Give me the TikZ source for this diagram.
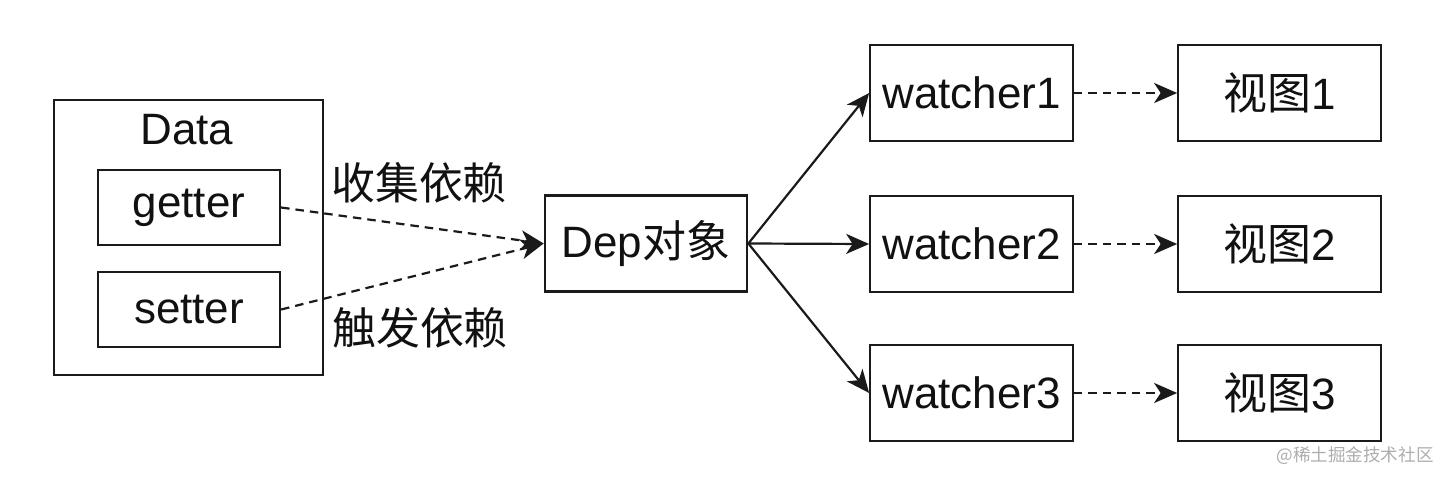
\documentclass[tikz,border=0pt]{standalone}
\usepackage{fontspec}
\setmainfont{Liberation Sans}
\newfontfamily\cjk{Noto Sans CJK SC}
\usetikzlibrary{arrows.meta,positioning}
\definecolor{depInk}{HTML}{111111}
\definecolor{depLine}{HTML}{1A1A1A}
\definecolor{depMuted}{HTML}{ADADAD}
\tikzset{
  depBlock/.style={
    draw=depLine,
    line width=1.25pt,
    fill=white,
    align=center,
    inner sep=0pt,
    minimum width=4.05cm,
    minimum height=1.92cm,
    text=depInk,
    font=\fontsize{25}{30}\selectfont
  },
  depSmall/.style={
    depBlock,
    minimum width=3.64cm,
    minimum height=1.5cm
  },
  depGroup/.style={
    draw=depLine,
    line width=1.25pt,
    inner sep=0pt,
    minimum width=5.38cm,
    minimum height=5.5cm
  },
  depArrow/.style={
    -{Stealth[length=0.46cm,width=0.4cm,inset=0.13cm]},
    line width=1.25pt,
    draw=depLine
  },
  depDashed/.style={
    depArrow,
    dash pattern=on 0.17cm off 0.12cm
  },
  depLabel/.style={
    text=depInk,
    inner sep=0pt,
    font=\fontsize{25}{30}\selectfont\cjk
  }
}

\begin{document}
\begin{tikzpicture}[x=1cm,y=1cm]
\useasboundingbox (0,0) rectangle (29.06,9.66);

% Data with its accessors.
\node[depGroup] (data) at (3.77,4.91) {};
\node[depLabel, font=\fontsize{25}{30}\selectfont] (datatitle) at (3.74,7.06) {Data};
\node[depSmall] (getter) at (3.78,5.51) {getter};
\node[depSmall] (setter) at (3.78,3.47) {setter};

% Dependency object.
\node[depBlock] (dep) at (12.92,4.79) {Dep{\cjk 对象}};

\node[depLabel] (collect) at (8.38,6.00) {收集依赖};
\node[depLabel] (trigger) at (8.40,3.10) {触发依赖};

\draw[depDashed] (getter.east) -- (dep.west);
\draw[depDashed] (setter.east) -- (dep.west);

% Watchers and views.
\foreach \i/\y in {1/7.80,2/4.78,3/1.80} {
  \node[depBlock] (watcher\i) at (19.43,\y) {watcher\i};
  \node[depBlock] (view\i) at (25.59,\y) {{\cjk 视图}\i};
  \draw[depArrow] (dep.east) -- (watcher\i.west);
  \draw[depDashed] (watcher\i.east) -- (view\i.west);
}

\node[depLabel, text=depMuted, font=\fontsize{10}{12}\selectfont\cjk] (credit) at (27.10,0.54)
  {@稀土掘金技术社区};

\end{tikzpicture}
\end{document}
